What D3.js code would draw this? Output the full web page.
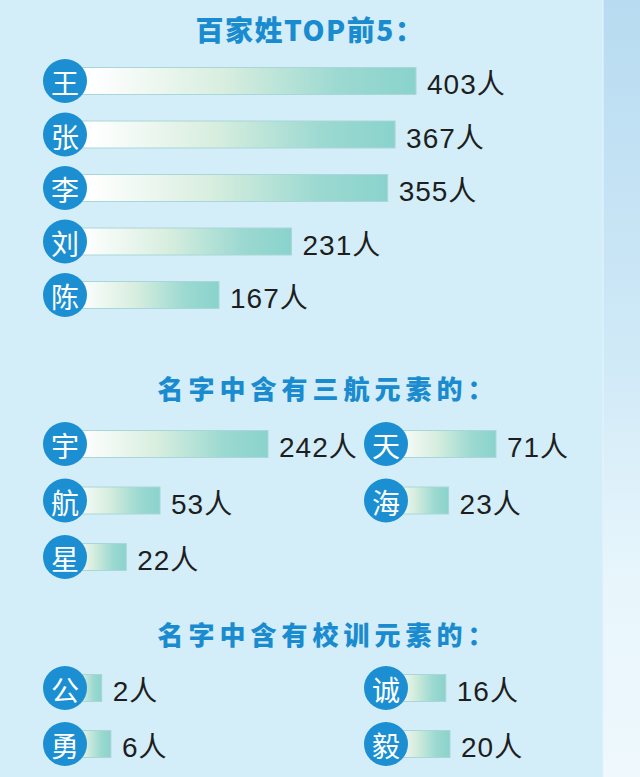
<!DOCTYPE html>
<html><head><meta charset="utf-8">
<script src="https://cdn.jsdelivr.net/npm/d3@7/dist/d3.min.js"></script>
<style>html,body{margin:0;padding:0;background:#d3eef9;}svg{display:block;}</style>
</head><body>
<script>
// ---- data ----
const titles = ["百家姓TOP前5：", "名字中含有三航元素的：", "名字中含有校训元素的："];
const surnames = ["王", "张", "李", "刘", "陈"];
const surnameCounts = [403, 367, 355, 231, 167];
const hangChars = ["宇", "天", "航", "海", "星"];
const hangCounts = [242, 71, 53, 23, 22];
const mottoChars = ["公", "诚", "勇", "毅"];
const mottoCounts = [2, 16, 6, 20];
const unit = "人";

const W = 640, H = 777;
const svg = d3.select("body").append("svg").attr("width", W).attr("height", H);
const defs = svg.append("defs");

// background
svg.append("rect").attr("width", W).attr("height", H).attr("fill", "#d3eef9");
const sg = defs.append("linearGradient").attr("id", "strip").attr("x1", 0).attr("y1", 0).attr("x2", 0).attr("y2", 1);
sg.append("stop").attr("offset", 0).attr("stop-color", "#b8dbf1");
sg.append("stop").attr("offset", 0.45).attr("stop-color", "#cfe9f7");
sg.append("stop").attr("offset", 0.75).attr("stop-color", "#e8f6fc");
sg.append("stop").attr("offset", 1).attr("stop-color", "#eef8fd");
svg.append("rect").attr("x", 603).attr("y", 0).attr("width", 37).attr("height", H).attr("fill", "url(#strip)");
svg.append("rect").attr("x", 602).attr("y", 0).attr("width", 2).attr("height", H).attr("fill", "#e2f3fb").attr("opacity", 0.6);

// bar gradient
const bg = defs.append("linearGradient").attr("id", "bar").attr("x1", 0).attr("y1", 0).attr("x2", 1).attr("y2", 0);
bg.append("stop").attr("offset", 0.08).attr("stop-color", "#ffffff");
bg.append("stop").attr("offset", 0.45).attr("stop-color", "#d8eedf");
bg.append("stop").attr("offset", 0.78).attr("stop-color", "#9cd9d1");
bg.append("stop").attr("offset", 1).attr("stop-color", "#89d3cc");

const blue = "#1b8fd1";
const colX = d3.scalePoint().domain([0, 1]).range([65, 386]);

function drawTitle(text, cx, cy, spacing, size) {
  svg.append("text").attr("x", cx).attr("y", cy)
    .attr("text-anchor", "middle").attr("dominant-baseline", "central")
    .attr("font-family", "'Noto Sans CJK SC', sans-serif").attr("font-weight", 900)
    .attr("font-size", size).attr("letter-spacing", spacing).attr("fill", "#1a8bcf")
    .text(text);
}

function drawItems(chars, counts, xScale, yScale, wScale, cols) {
  const items = chars.map((c, i) => ({c, v: counts[i], col: cols ? i % 2 : 0, row: cols ? Math.floor(i / 2) : i}));
  const g = svg.append("g");
  const it = g.selectAll("g.item").data(items).join("g").attr("class", "item")
    .attr("transform", d => `translate(${xScale(d.col)},${yScale(d.row)})`);
  it.append("rect").attr("x", 0).attr("y", -13.5).attr("height", 27)
    .attr("width", d => wScale(d.v)).attr("fill", "url(#bar)")
    .attr("stroke", "#a9d6d8").attr("stroke-width", 1);
  it.append("circle").attr("r", 22).attr("fill", blue);
  it.append("text").attr("text-anchor", "middle").attr("dominant-baseline", "central")
    .attr("y", 1)
    .attr("font-family", "'Noto Sans CJK SC', sans-serif").attr("font-weight", 400)
    .attr("font-size", 28).attr("fill", "#fff").text(d => d.c);
  it.append("text").attr("x", d => wScale(d.v) + 11).attr("y", 13)
    .attr("font-family", "'Liberation Sans', 'Noto Sans CJK SC', sans-serif")
    .attr("font-size", 28).attr("letter-spacing", 1).attr("fill", "#1e1e1e")
    .text(d => d.v + unit);
}

// Section 1
drawTitle(titles[0], 310, 29, 1.5, 28);
const y1 = d3.scalePoint().domain(d3.range(surnames.length)).range([81, 295]);
const w1 = d3.scaleLog().domain(d3.extent(surnameCounts)).range([154, 351]);
drawItems(surnames, surnameCounts, colX, y1, w1, false);

// Section 2
drawTitle(titles[1], 328, 387, 5, 26);
const y2 = d3.scalePoint().domain([0, 1, 2]).range([444, 557]);
const w2 = d3.scaleSqrt().domain([0, d3.max(hangCounts)]).range([0, 203]);
drawItems(hangChars, hangCounts, colX, y2, w2, true);

// Section 3
drawTitle(titles[2], 328, 633, 5, 26);
const y3 = d3.scalePoint().domain([0, 1]).range([688, 744]);
const w3 = d3.scaleSqrt().domain([0, d3.max(mottoCounts)]).range([24, 64]);
drawItems(mottoChars, mottoCounts, colX, y3, w3, true);
</script>
</body></html>
